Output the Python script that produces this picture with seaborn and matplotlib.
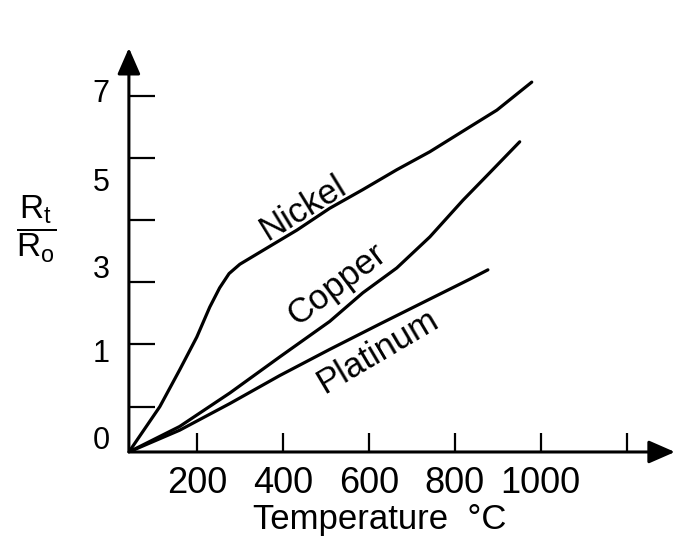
import matplotlib
matplotlib.use("Agg")
import matplotlib.pyplot as plt
import pandas as pd
import seaborn as sns

# curve readings: temperature (degC) vs resistance ratio (axis tick units)
nickel_t = [42, 114, 160, 200, 230, 253, 275, 300, 370, 433, 509, 586, 665, 742, 835, 898, 979]
nickel_r = [0.27, 1.0, 1.59, 2.12, 2.60, 2.91, 3.14, 3.29, 3.58, 3.84, 4.19, 4.49, 4.81,
            5.10, 5.50, 5.77, 6.22]
copper_t = [42, 160, 277, 393, 509, 586, 665, 742, 819, 881, 951]
copper_r = [0.27, 0.68, 1.22, 1.80, 2.37, 2.83, 3.23, 3.73, 4.32, 4.76, 5.26]
platinum_t = [42, 160, 277, 393, 509, 626, 742, 835, 877]
platinum_r = [0.27, 0.62, 1.05, 1.50, 1.92, 2.33, 2.73, 3.05, 3.20]

x_ticks = [200, 400, 600, 800, 1000, 1200]
x_labels = ["200", "400", "600", "800", "1000", ""]
y_marks = [1, 2, 3, 4, 5, 6]
y_label_pos = [0.50, 1.91, 3.26, 4.66, 6.09]
y_labels = ["0", "1", "3", "5", "7"]

curve_labels = {
    "Nickel": (447, 4.20, 31.5),
    "Copper": (526, 2.96, 37),
    "Platinum": (621, 1.88, 30.6),
}

df = pd.concat([
    pd.DataFrame({"metal": "Nickel", "temp": nickel_t, "ratio": nickel_r}),
    pd.DataFrame({"metal": "Copper", "temp": copper_t, "ratio": copper_r}),
    pd.DataFrame({"metal": "Platinum", "temp": platinum_t, "ratio": platinum_r}),
])

sns.set_theme(style="white")
plt.rcParams["font.family"] = ["Liberation Sans", "DejaVu Sans"]
plt.rcParams["mathtext.fontset"] = "custom"
plt.rcParams["mathtext.rm"] = "Liberation Sans"
plt.rcParams["mathtext.it"] = "Liberation Sans"
for key in ["text.color", "axes.labelcolor", "xtick.color", "ytick.color"]:
    plt.rcParams[key] = "black"

fig = plt.figure(figsize=(6.82, 5.46), dpi=100)
ax = fig.add_axes([0.189, 0.1722, 0.8006, 0.740])

sns.lineplot(data=df, x="temp", y="ratio", hue="metal", units="metal",
             estimator=None, sort=False, legend=False,
             palette=["black"] * 3, linewidth=2.3, ax=ax)

ax.set_xlim(42, 1312)
ax.set_ylim(0.27, 6.77)
for s in ax.spines.values():
    s.set_visible(False)

# axis lines with arrowheads
arrow = dict(arrowstyle="-|>,head_length=0.8,head_width=0.35", lw=2.2,
             color="black", shrinkA=0, shrinkB=0, mutation_scale=20)
ax.annotate("", xy=(1, 0), xytext=(0, 0), xycoords="axes fraction",
            arrowprops=arrow, annotation_clip=False)
ax.annotate("", xy=(0, 1), xytext=(0, 0), xycoords="axes fraction",
            arrowprops=arrow, annotation_clip=False)

ax.set_xticks(x_ticks)
ax.set_xticklabels(x_labels, fontsize=26)
ax.tick_params(axis="x", direction="in", length=14, width=1.6, pad=10,
               color="black", bottom=True)

ax.set_yticks(y_label_pos)
ax.set_yticklabels(y_labels, fontsize=22)
ax.set_yticks(y_marks, minor=True)
ax.tick_params(axis="y", which="major", length=0, pad=14, left=True)
ax.tick_params(axis="y", which="minor", direction="in", length=19,
               width=1.6, color="black", left=True)

ax.set_xlabel("Temperature  °C", fontsize=25)
ax.xaxis.set_label_coords(0.46, -0.168)
ax.xaxis.label.set_va("center")
ax.set_ylabel(r"$\dfrac{\mathrm{R_t}}{\mathrm{R_o}}$", fontsize=24, rotation=0)
ax.yaxis.set_label_coords(-0.170, 0.55)
ax.yaxis.label.set_va("center")

for name, (tx, ty, rot) in curve_labels.items():
    ax.text(tx, ty, name, fontsize=25, rotation=rot, rotation_mode="anchor",
            ha="center", va="center")

fig.savefig("out.png", dpi=100)
